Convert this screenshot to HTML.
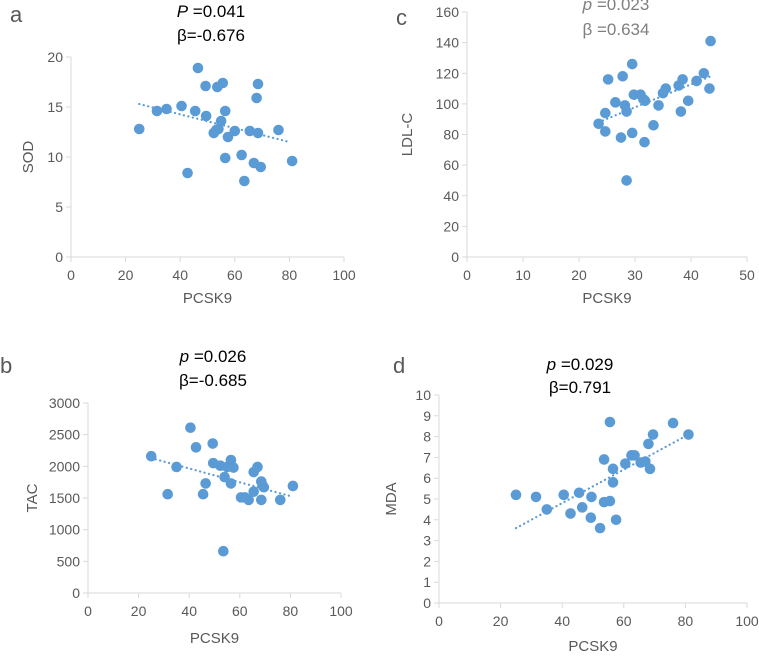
<!DOCTYPE html>
<html><head><meta charset="utf-8"><style>
body{margin:0;background:#fff;width:759px;height:655px;overflow:hidden}
svg{font-family:"Liberation Sans",sans-serif}
</style></head><body>
<svg id="s" width="759" height="655" xmlns="http://www.w3.org/2000/svg"></svg>
<script>
const aX=[25,31.5,35,40.5,42.7,45.5,46.5,49.3,49.5,52.3,53.2,53.6,54,55,55.6,56.5,56.5,57.5,60,62.5,63.5,65.5,67,68,68.5,68.5,69.5,76,81];
const aY=[12.8,14.6,14.8,15.1,8.4,14.6,18.9,17.1,14.1,12.4,12.7,17,12.8,13.6,17.4,14.6,9.9,12,12.6,10.2,7.6,12.6,9.4,15.9,17.3,12.4,9,12.7,9.6];
const aTrend=[[25,15.3],[80,11.5]];
const cX=[23.5,24.7,24.7,25.2,26.5,27.5,27.8,28.2,28.5,28.5,29.5,29.5,29.8,31,31.5,31.8,31.7,33.3,34.2,35,35.5,37.8,38.5,38.2,39.5,41,42.3,43.5,43.3];
const cY=[87,94,82,116,101,78,118,99,95,50,81,126,106,106,103,102,75,86,99,107,110,112,116,95,102,115,120,141,110];
const cTrend=[[23.5,88],[43.5,118]];
const bX=[25,31.5,35,40.5,42.7,45.5,46.5,49.3,49.5,52.3,54,53.5,55,56.5,56.5,57.5,60.5,62,63.5,65.5,65.5,67,68.5,68.5,69.5,69,76,81];
const bY=[2160,1560,1990,2610,2300,1560,1730,2360,2050,2010,1830,660,1990,2100,1730,1980,1510,1510,1470,1910,1600,1990,1760,1470,1670,1700,1470,1690];
const bTrend=[[25,2130],[80,1530]];
const dX=[25,31.5,35,40.5,42.7,45.5,46.5,49.3,49.5,52.3,53.6,53.6,55.5,55.5,56.5,56.5,57.5,60.5,62.5,63.5,65.5,67,68,68.5,69.5,76,81];
const dY=[5.2,5.1,4.5,5.2,4.3,5.3,4.6,4.1,5.1,3.6,6.9,4.85,4.9,8.7,6.45,5.8,4.0,6.7,7.1,7.1,6.75,6.8,7.65,6.45,8.1,8.65,8.1];
const dTrend=[[25,3.6],[81,8.1]];
const aXt=[0,20,40,60,80,100], aYt=[0,5,10,15,20];
const cXt=[0,10,20,30,40,50], cYt=[0,20,40,60,80,100,120,140,160];
const bXt=[0,20,40,60,80,100], bYt=[0,500,1000,1500,2000,2500,3000];
const dXt=[0,20,40,60,80,100], dYt=[0,1,2,3,4,5,6,7,8,9,10];

const svg=document.getElementById('s');
const NS='http://www.w3.org/2000/svg';
function mk(tag,at,parent,txt){const e=document.createElementNS(NS,tag);for(const k in at)e.setAttribute(k,at[k]);if(txt!==undefined)e.textContent=txt;(parent||svg).appendChild(e);return e;}
function panel(o){
  const g=mk('g',{});
  
  
  const xmax=o.xt[o.xt.length-1], ymax=o.yt[o.yt.length-1];
  const sx=v=>o.x0+(o.x1-o.x0)*v/xmax, sy=v=>o.y0-(o.y0-o.y1)*v/ymax;
  const ax=mk('line',{x1:o.x0,y1:o.y0,x2:o.x1,y2:o.y0,stroke:'#d9d9d9','stroke-width':1},g);
  
  const ay=mk('line',{x1:o.x0,y1:o.y0,x2:o.x0,y2:o.y1,stroke:'#d9d9d9','stroke-width':1},g);
  
  o.xt.forEach(t=>{mk('line',{x1:sx(t),y1:o.y0,x2:sx(t),y2:o.y0+5,stroke:'#d9d9d9'},g);
    const e=mk('text',{x:sx(t),y:o.y0+23,'text-anchor':'middle','font-size':14,fill:'#595959'},g,t);
    });
  o.yt.forEach(t=>{mk('line',{x1:o.x0-5,y1:sy(t),x2:o.x0,y2:sy(t),stroke:'#d9d9d9'},g);
    const e=mk('text',{x:o.x0-8,y:sy(t)+5,'text-anchor':'end','font-size':14,fill:'#595959'},g,t);
    });
  o.X.forEach((v,i)=>{const c=mk('circle',{cx:sx(v),cy:sy(o.Y[i]),r:5.3,fill:'#5b9bd5'},g);
    });
  const tl=mk('line',{x1:sx(o.tr[0][0]),y1:sy(o.tr[0][1]),x2:sx(o.tr[1][0]),y2:sy(o.tr[1][1]),stroke:'#5b9bd5','stroke-width':2.2,'stroke-dasharray':'0.1 4.5','stroke-linecap':'round'},g);
  
  const xt=mk('text',{x:(o.x0+o.x1)/2,y:o.xty,'text-anchor':'middle','font-size':15,fill:'#595959'},g,'PCSK9');
  
  const yx=o.ytx, yy=(o.y0+o.y1)/2;
  const yt=mk('text',{x:yx,y:yy,'text-anchor':'middle','font-size':15,fill:'#595959',transform:`rotate(-90 ${yx} ${yy})`},g,o.ylab);
  
  const lt=mk('text',{x:o.lx,y:o.ly,'font-size':o.lbold?20:22,'font-weight':o.lbold?'bold':'normal',fill:o.lbold?'#000':'#595959'},g,o.id);
  
  const t1=mk('text',{x:o.tx,y:o.t1y,'text-anchor':'middle','font-size':17,fill:o.tc},g);
  
  mk('tspan',{'font-style':'italic'},t1,o.pl);mk('tspan',{},t1,o.pv);
  const t2=mk('text',{x:o.tx,y:o.t2y,'text-anchor':'middle','font-size':17,fill:o.tc},g,o.beta);
  
}
panel({id:'a',X:aX,Y:aY,tr:aTrend,xt:aXt,yt:aYt,x0:71,x1:344,y0:257,y1:57,xty:303,ytx:33,ylab:'SOD',lx:10,ly:22,tx:211,t1y:17,t2y:41,tc:'#000',pl:'P',pv:' =0.041',beta:'β=-0.676'});
panel({id:'c',X:cX,Y:cY,tr:cTrend,xt:cXt,yt:cYt,x0:467,x1:747,y0:257,y1:12,xty:303,ytx:412,ylab:'LDL-C',lx:396,ly:25,tx:616,t1y:10,t2y:35,tc:'#7f7f7f',pl:'p',pv:' =0.023',beta:'β =0.634'});
panel({id:'b',X:bX,Y:bY,tr:bTrend,xt:bXt,yt:bYt,x0:88,x1:341,y0:593,y1:403,xty:643,ytx:37,ylab:'TAC',lx:0,ly:373,tx:213,t1y:362,t2y:386,tc:'#000',pl:'p',pv:' =0.026',beta:'β=-0.685'});
panel({id:'d',X:dX,Y:dY,tr:dTrend,xt:dXt,yt:dYt,x0:439,x1:747,y0:603,y1:395,xty:651,ytx:396,ylab:'MDA',lx:393,ly:373,tx:580,t1y:370,t2y:393,tc:'#000',pl:'p',pv:' =0.029',beta:'β=0.791'});
</script>
</body></html>
